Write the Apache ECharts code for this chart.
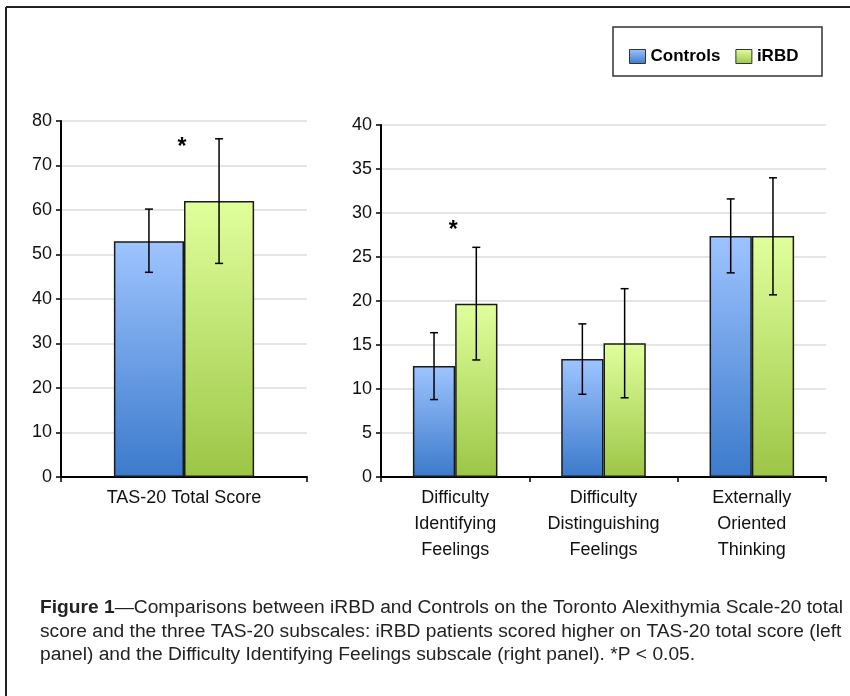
<!DOCTYPE html>
<html>
<head>
<meta charset="utf-8">
<script src="https://cdn.jsdelivr.net/npm/echarts@6/dist/echarts.min.js"></script>
<style>
html,body{margin:0;padding:0;background:#fff;}
#chart{width:850px;height:696px;}
</style>
</head>
<body>
<div id="chart"></div>
<script>
// ---- data ----
var categoriesLeft = ['TAS-20 Total Score'];
var controlsLeft = [53];
var irbdLeft = [62];
var controlsLeftLow = [46];
var controlsLeftHigh = [60.2];
var irbdLeftLow = [48];
var irbdLeftHigh = [76];
var starLeft = [75];

var categoriesRight = ['Difficulty\nIdentifying\nFeelings', 'Difficulty\nDistinguishing\nFeelings', 'Externally\nOriented\nThinking'];
var controlsRight = [12.6, 13.4, 27.4];
var irbdRight = [19.7, 15.2, 27.4];
var controlsRightLow = [8.8, 9.4, 23.2];
var controlsRightHigh = [16.4, 17.4, 31.6];
var irbdRightLow = [13.3, 9.0, 20.7];
var irbdRightHigh = [26.1, 21.4, 34.0];
var starRight = [28.5, null, null];

var seriesNames = ['Controls', 'iRBD'];
var leftTicks = {min: 0, max: 80, interval: 10};
var rightTicks = {min: 0, max: 40, interval: 5};

// ---- styles ----
var FONT = 'Liberation Sans';
var GAP = 0.43;
var blueGrad = new echarts.graphic.LinearGradient(0, 0, 0, 1, [
  {offset: 0, color: '#9ec4ff'}, {offset: 1, color: '#3b7acb'}]);
var greenGrad = new echarts.graphic.LinearGradient(0, 0, 0, 1, [
  {offset: 0, color: '#e0ff9c'}, {offset: 1, color: '#9cc646'}]);

function errData(low, high, side) {
  return low.map(function (l, i) { return [i, l, high[i], side]; });
}
function starData(arr) {
  var out = [];
  arr.forEach(function (v, i) { if (v != null) out.push([i, v]); });
  return out;
}
function errRender(params, api) {
  var cat = api.value(0), lo = api.value(1), hi = api.value(2), side = api.value(3);
  var band = api.size([1, 0])[0];
  var bw = band * (1 - GAP) / 2;
  var pLo = api.coord([cat, lo]);
  var pHi = api.coord([cat, hi]);
  var x = pLo[0] + (side === 0 ? -bw / 2 : bw / 2);
  var c = 4;
  var st = {stroke: '#000', lineWidth: 1.5};
  return {type: 'group', children: [
    {type: 'line', shape: {x1: x, y1: pLo[1], x2: x, y2: pHi[1]}, style: st},
    {type: 'line', shape: {x1: x - c, y1: pLo[1], x2: x + c, y2: pLo[1]}, style: st},
    {type: 'line', shape: {x1: x - c, y1: pHi[1], x2: x + c, y2: pHi[1]}, style: st}
  ]};
}
function starRender(params, api) {
  var p = api.coord([api.value(0), api.value(1)]);
  return {type: 'text', x: p[0] - 2, y: p[1] + 4, style: {text: '*', font: 'bold 23px ' + FONT, fill: '#000', align: 'center', verticalAlign: 'middle'}};
}

function yAxis(idx, t) {
  return {
    type: 'value', gridIndex: idx, min: t.min, max: t.max, interval: t.interval,
    axisLine: {show: true, lineStyle: {color: '#000', width: 2}},
    axisTick: {show: true, length: 5, lineStyle: {color: '#000', width: 1.5}},
    axisLabel: {color: '#111', fontFamily: FONT, fontSize: 18, margin: 9},
    splitLine: {show: true, lineStyle: {color: '#dcdcdc', width: 1.5}}
  };
}
function xAxis(idx, cats) {
  return {
    type: 'category', gridIndex: idx, data: cats,
    axisLine: {show: true, lineStyle: {color: '#000', width: 2}},
    axisTick: {show: true, length: 5, alignWithLabel: false, lineStyle: {color: '#000', width: 1.5}},
    axisLabel: {color: '#111', fontFamily: FONT, fontSize: 18, lineHeight: 26, margin: 8}
  };
}
function bar(name, data, idx, grad) {
  return {
    type: 'bar', name: name, data: data, xAxisIndex: idx, yAxisIndex: idx,
    barGap: '0%', barCategoryGap: (GAP * 100) + '%',
    itemStyle: {color: grad, borderColor: '#1a1a1a', borderWidth: 1.5},
    emphasis: {disabled: true}
  };
}
function errSeries(data, idx) {
  return {type: 'custom', xAxisIndex: idx, yAxisIndex: idx, data: data, renderItem: errRender, z: 5, silent: true};
}
function starSeries(data, idx) {
  return {type: 'custom', xAxisIndex: idx, yAxisIndex: idx, data: data, renderItem: starRender, z: 5, silent: true};
}

var chart = echarts.init(document.getElementById('chart'), null, {renderer: 'canvas'});
chart.setOption({
  animation: false,
  backgroundColor: '#fff',
  textStyle: {fontFamily: FONT},
  grid: [
    {left: 61, right: 543, top: 121, bottom: 219},
    {left: 381, right: 24, top: 125, bottom: 219}
  ],
  xAxis: [xAxis(0, categoriesLeft), xAxis(1, categoriesRight)],
  yAxis: [yAxis(0, leftTicks), yAxis(1, rightTicks)],
  legend: {
    data: seriesNames.map(function (n) { return {name: n, icon: 'rect'}; }),
    left: 624, top: 43, itemWidth: 16, itemHeight: 14, itemGap: 15,
    itemStyle: {borderColor: '#333', borderWidth: 1},
    textStyle: {fontFamily: FONT, fontSize: 17, fontWeight: 'bold', color: '#000'},
    selectedMode: false
  },
  series: [
    bar(seriesNames[0], controlsLeft, 0, blueGrad),
    bar(seriesNames[1], irbdLeft, 0, greenGrad),
    errSeries(errData(controlsLeftLow, controlsLeftHigh, 0), 0),
    errSeries(errData(irbdLeftLow, irbdLeftHigh, 1), 0),
    starSeries(starData(starLeft), 0),
    bar(seriesNames[0], controlsRight, 1, blueGrad),
    bar(seriesNames[1], irbdRight, 1, greenGrad),
    errSeries(errData(controlsRightLow, controlsRightHigh, 0), 1),
    errSeries(errData(irbdRightLow, irbdRightHigh, 1), 1),
    starSeries(starData(starRight), 1)
  ],
  graphic: [
    {type: 'line', shape: {x1: 6, y1: 7, x2: 6, y2: 696}, style: {stroke: '#222', lineWidth: 2}},
    {type: 'line', shape: {x1: 6, y1: 7, x2: 850, y2: 7}, style: {stroke: '#222', lineWidth: 2}},
    {type: 'rect', shape: {x: 613, y: 27, width: 209, height: 49}, style: {fill: 'none', stroke: '#333', lineWidth: 1.5}},
    {type: 'text', left: 40, top: 596, style: {
      text: '{b|Figure 1}—Comparisons between iRBD and Controls on the Toronto Alexithymia Scale-20 total\nscore and the three TAS-20 subscales: iRBD patients scored higher on TAS-20 total score (left\npanel) and the Difficulty Identifying Feelings subscale (right panel). *P < 0.05.',
      font: '19.2px ' + FONT, fill: '#222', lineHeight: 23.5,
      rich: {b: {fontWeight: 'bold', fontFamily: FONT, fontSize: 19.2, fill: '#222', lineHeight: 23.5}}
    }}
  ]
});
</script>
</body>
</html>
